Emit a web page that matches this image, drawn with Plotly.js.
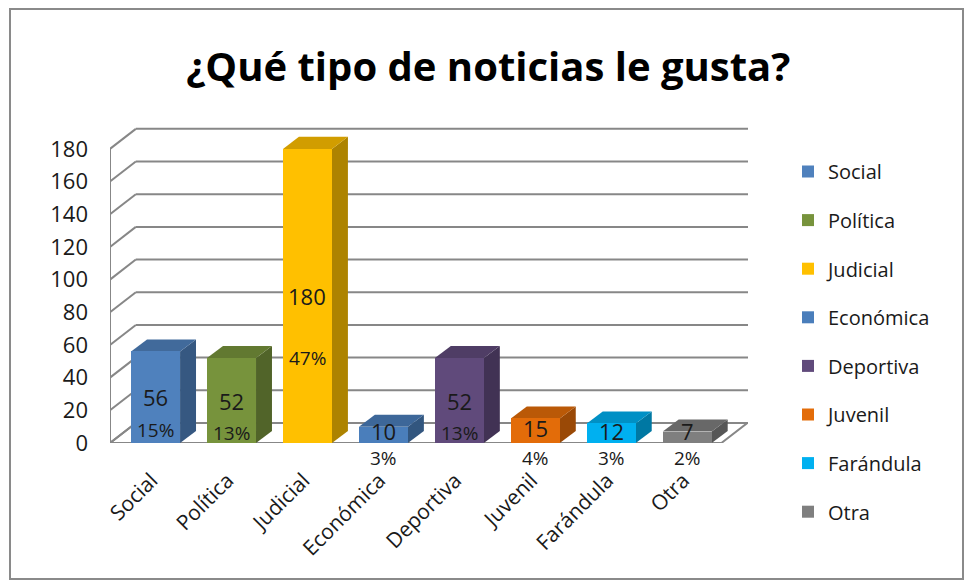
<!DOCTYPE html>
<html>
<head>
<meta charset="utf-8">
<script src="https://cdn.plot.ly/plotly-3.0.1.min.js"></script>
<style>html,body{margin:0;padding:0;background:#fff;}#chart{width:965px;height:582px;}</style>
</head>
<body>
<div id="chart"></div>
<script>
// ---- data ----
var categories = ["Social", "Política", "Judicial", "Económica", "Deportiva", "Juvenil", "Farándula", "Otra"];
var values = [56, 52, 180, 10, 52, 15, 12, 7];
var pctLabels = ["15%", "13%", "47%", "3%", "13%", "4%", "3%", "2%"];
var colors = ["#4F81BD", "#77933C", "#FFC000", "#4A7EBB", "#604A7B", "#E36C09", "#00B0F0", "#7F7F7F"];
var yTicks = [0, 20, 40, 60, 80, 100, 120, 140, 160, 180];
var titleText = "¿Qué tipo de noticias le gusta?";

// ---- layout geometry ----
var W = 965, H = 582;
var mL = 110, mR = 217, mT = 126, mB = 139;
var xRange = [-0.6, 7.8], yRange = [0, 194];
var barW = 0.645;
var bdx = 0.21, bdy = 7.35;    // bar depth (data units)
var wdx = 0.34, wdy = 12.25;   // wall depth (data units)
var floorRight = 7.45;
var font = "'Open Sans', 'Noto Sans', sans-serif";
var ink = "#1a1a1a";

function shade(hex, f) {
  var n = parseInt(hex.slice(1), 16);
  var r = Math.round(((n >> 16) & 255) * f), g = Math.round(((n >> 8) & 255) * f), b = Math.round((n & 255) * f);
  return "rgb(" + r + "," + g + "," + b + ")";
}
function P(pts) { return "M" + pts.map(function (p) { return p[0] + "," + p[1]; }).join("L") + "Z"; }

var traces = categories.map(function (c, i) {
  return {
    type: "bar", x: [i], y: [values[i]], name: c, width: barW,
    marker: { color: colors[i], line: { width: 0 } },
    legendgroup: "g" + i, hoverinfo: "skip"
  };
});

var shapes = [];
var gridColor = "#878787";
var pw = W - mL - mR, ph = H - mT - mB;
function px2x(px) { return (px - mL) / pw; }
function py2y(py) { return (H - mB - py) / ph; }
var pxPerUnit = ph / (yRange[1] - yRange[0]);
// chart border
shapes.push({ type: "rect", xref: "paper", yref: "paper", x0: px2x(10), x1: px2x(963), y0: py2y(579), y1: py2y(9),
  line: { color: "#8a8a8a", width: 2 }, fillcolor: "rgba(0,0,0,0)", layer: "below" });
// floor
shapes.push({ type: "path", xref: "x", yref: "y", layer: "below",
  path: P([[xRange[0], 0], [floorRight, 0], [floorRight + wdx, wdy], [xRange[0] + wdx, wdy]]),
  fillcolor: "#ffffff", line: { color: gridColor, width: 2 } });
// gridlines on back wall and left wall
yTicks.forEach(function (v) {
  shapes.push({ type: "line", xref: "x", yref: "y", layer: "below",
    x0: xRange[0] + wdx, x1: xRange[1], y0: v + wdy, y1: v + wdy, line: { color: gridColor, width: 2 } });
  shapes.push({ type: "line", xref: "x", yref: "y", layer: "below",
    x0: xRange[0], x1: xRange[0] + wdx, y0: v, y1: v + wdy, line: { color: gridColor, width: 2 } });
});
// left wall front edge
shapes.push({ type: "line", xref: "x", yref: "y", layer: "below",
  x0: xRange[0], x1: xRange[0], y0: 0, y1: yTicks[yTicks.length - 1], line: { color: gridColor, width: 2 } });
// bar side + top faces
values.forEach(function (v, i) {
  var xl = i - barW / 2, xr = i + barW / 2;
  shapes.push({ type: "path", xref: "x", yref: "y", layer: "below",
    path: P([[xr, 0], [xr + bdx, bdy], [xr + bdx, v + bdy], [xr, v]]),
    fillcolor: shade(colors[i], 0.68), line: { width: 0 } });
  shapes.push({ type: "path", xref: "x", yref: "y", layer: "below",
    path: P([[xl, v], [xl + bdx, v + bdy], [xr + bdx, v + bdy], [xr, v]]),
    fillcolor: shade(colors[i], 0.82), line: { width: 0 } });
});

// data labels
var annotations = [];
values.forEach(function (v, i) {
  var big = v >= 40;
  annotations.push({ x: i, y: big ? v / 2 : 0, yshift: big ? 0 : Math.max(v / 2 + 1.5, 7.5) * pxPerUnit, xref: "x", yref: "y",
    text: String(v), showarrow: false, font: { family: font, size: 22, color: ink } });
  if (big) {
    annotations.push({ x: i, y: Math.min(v / 2 - 20, 52), xref: "x", yref: "y", text: pctLabels[i], showarrow: false,
      font: { family: font, size: 19, color: ink } });
  } else {
    annotations.push({ x: i, y: 0, yshift: -9 * pxPerUnit, xref: "x", yref: "y", text: pctLabels[i], showarrow: false,
      font: { family: font, size: 19, color: ink } });
  }
});

var layout = {
  width: W, height: H,
  margin: { l: mL, r: mR, t: mT, b: mB, pad: 0 },
  paper_bgcolor: "#ffffff", plot_bgcolor: "rgba(0,0,0,0)",
  title: { text: "<b>" + titleText + "</b>", font: { family: font, size: 40, color: "#000" },
    x: 0.506, xanchor: "center", y: 1 - 67 / H, yanchor: "middle", xref: "container", yref: "container" },
  barmode: "overlay",
  xaxis: { range: xRange, tickmode: "array", tickvals: categories.map(function (c, i) { return i; }),
    ticktext: categories, tickangle: -45, showgrid: false, zeroline: false, showline: false, ticks: "",
    ticklabelstandoff: 20, ticklabelshift: -4,
    tickfont: { family: font, size: 21, color: ink }, fixedrange: true },
  yaxis: { range: yRange, tickmode: "array", tickvals: yTicks, ticktext: yTicks.map(String),
    showgrid: false, zeroline: false, showline: false, ticks: "", ticklabelstandoff: 21,
    tickfont: { family: font, size: 22, color: ink }, fixedrange: true },
  showlegend: true,
  legend: { x: 788 / W, xref: "container", y: 1 - 152 / H, yref: "container", xanchor: "left", yanchor: "top",
    font: { family: font, size: 20, color: ink }, tracegroupgap: 19.6, traceorder: "grouped",
    maxheight: 560, bgcolor: "rgba(0,0,0,0)" },
  shapes: shapes,
  annotations: annotations,
  bargap: 0
};

Plotly.newPlot("chart", traces, layout, { displayModeBar: false, staticPlot: true });
</script>
</body>
</html>
